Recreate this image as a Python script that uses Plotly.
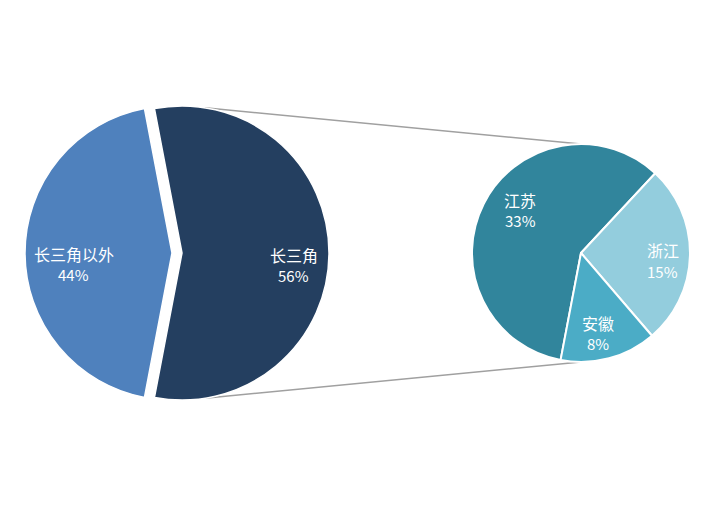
import math
import plotly.graph_objects as go

W, H = 712, 508

# ---------------- data ----------------
outer_labels = ["长三角", "长三角以外"]
outer_values = [56, 44]
sub_labels = ["江苏", "浙江", "安徽"]
sub_values = [33, 15, 8]

# ---------------- styles ----------------
outer_colors = ["#243F60", "#4F81BD"]
sub_colors = ["#31859C", "#93CDDD", "#4BACC6"]
line_color = "#A0A0A0"
font_cjk = "Noto Sans CJK SC, Noto Sans, sans-serif"

# geometry in pixels (layout, not data)
L_CX, L_CY, L_R = 172, 253, 147
PULL = 0.068
R_CX, R_CY, R_R = 581, 253, 109
CONNECT_ANGLE = 9  # degrees from vertical on exploded slice
LINE_GAP = 21      # px between the label line and percent line

# label placement: (radial fraction, dx px, dy px)
outer_label_pos = [(0.76, 0, 12), (0.67, 0, 11)]
sub_label_pos = [(0.627, 0, -12), (0.75, 0, 6), (0.76, -4, 0)]

total = sum(outer_values)
share = outer_values[0] / total
rot_left = 90 - 180 * share
rot_right = 90 + 180 * share


def px_to_paper(x, y):
    return x / W, 1 - y / H


def domain_for(cx, cy, r, pull=0.0):
    half = r * (1 + pull)
    return dict(x=[(cx - half) / W, (cx + half) / W],
                y=[1 - (cy + half) / H, 1 - (cy - half) / H])


fig = go.Figure()
fig.add_trace(go.Pie(
    labels=outer_labels, values=outer_values, sort=False,
    direction="clockwise", rotation=rot_left,
    pull=[PULL, 0], textinfo="none", showlegend=False,
    marker=dict(colors=outer_colors, line=dict(color="white", width=1.5)),
    domain=domain_for(L_CX, L_CY, L_R, PULL),
))
fig.add_trace(go.Pie(
    labels=sub_labels, values=sub_values, sort=False,
    direction="clockwise", rotation=rot_right,
    textinfo="none", showlegend=False,
    marker=dict(colors=sub_colors, line=dict(color="white", width=2)),
    domain=domain_for(R_CX, R_CY, R_R),
))

annotations = []


def add_labels(labels, values, denom, cx, cy, r, rot, pulls, posconf):
    start = rot
    s = sum(values)
    for i, (lab, v) in enumerate(zip(labels, values)):
        span = 360 * v / s
        mid = math.radians(start + span / 2)
        start += span
        ox = cx + pulls[i] * r * math.sin(mid)
        oy = cy - pulls[i] * r * math.cos(mid)
        f, dx, dy = posconf[i]
        x = ox + f * r * math.sin(mid) + dx
        y = oy - f * r * math.cos(mid) + dy
        pct = round(v / denom * 100)
        for txt, yy, size in [(lab, y - LINE_GAP / 2, 16),
                              (f"{pct}%", y + LINE_GAP / 2, 15)]:
            px, py = px_to_paper(x, yy)
            annotations.append(dict(
                x=px, y=py, xref="paper", yref="paper", showarrow=False,
                text=txt, align="center",
                font=dict(family=font_cjk, size=size, color="white"),
                xanchor="center", yanchor="middle",
            ))


add_labels(outer_labels, outer_values, total, L_CX, L_CY, L_R, rot_left,
           [PULL, 0], outer_label_pos)
add_labels(sub_labels, sub_values, total, R_CX, R_CY, R_R, rot_right,
           [0, 0, 0], sub_label_pos)

# connector lines from exploded slice to the sub pie
ex_cx = L_CX + PULL * L_R
a = math.radians(CONNECT_ANGLE)
top_start = (ex_cx + L_R * math.sin(a), L_CY - L_R * math.cos(a))
bot_start = (ex_cx + L_R * math.sin(a), L_CY + L_R * math.cos(a))
top_end = (R_CX, R_CY - R_R)
bot_end = (R_CX, R_CY + R_R)
shapes = []
for s_, e_ in [(top_start, top_end), (bot_start, bot_end)]:
    x0, y0 = px_to_paper(*s_)
    x1, y1 = px_to_paper(*e_)
    shapes.append(dict(type="line", xref="paper", yref="paper",
                       x0=x0, y0=y0, x1=x1, y1=y1,
                       line=dict(color=line_color, width=1.5), layer="below"))

fig.update_layout(
    width=W, height=H,
    margin=dict(l=0, r=0, t=0, b=0),
    paper_bgcolor="white", plot_bgcolor="white",
    annotations=annotations, shapes=shapes,
    showlegend=False,
)

fig.write_html("out.html",
               config={"displayModeBar": False},
               post_script="document.body.style.margin='0';"
                           "document.body.style.overflow='hidden';")
